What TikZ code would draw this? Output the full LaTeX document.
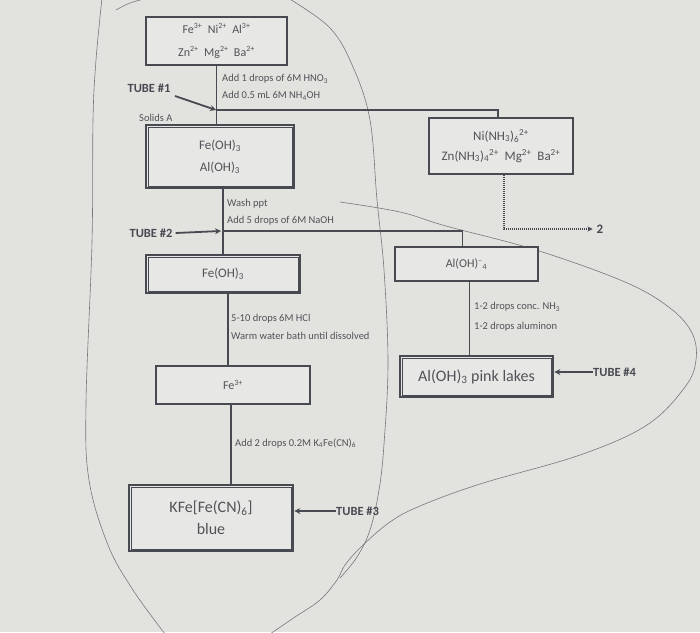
\documentclass[tikz,border=0pt]{standalone}
\usepackage{fontspec}
\setmainfont{Carlito}
\usetikzlibrary{arrows.meta,calc}
\definecolor{paper}{RGB}{226,226,223}
\definecolor{boxfill}{RGB}{231,231,229}
\definecolor{linec}{RGB}{72,74,82}
\definecolor{textc}{RGB}{82,82,88}
\definecolor{pencil}{RGB}{120,120,122}
\begin{document}
\begin{tikzpicture}[x=1pt,y=-1pt,
  sbox/.style={draw=linec, fill=boxfill, line width=1.1pt, text=textc, align=center, inner sep=0pt},
  dbox/.style={draw=linec, fill=boxfill, line width=2.6pt, text=textc, align=center, inner sep=0pt},
  conn/.style={draw=linec, line width=1.1pt},
  tubearrow/.style={draw=linec, line width=1.8pt, -{Stealth[length=6pt,width=6pt]}},
  note/.style={anchor=west, text=textc, font=\fontsize{10.5}{12}\selectfont, inner sep=0pt},
  tube/.style={text=linec, font=\fontsize{12.5}{14}\bfseries\selectfont, inner sep=0pt},
  pencilline/.style={draw=pencil, line width=0.6pt}]
\useasboundingbox (0,0) rectangle (700,632);
\fill[paper] (0,0) rectangle (700,632);

% pencil outlines
\draw[pencilline] plot[smooth, tension=0.6] coordinates {(102,-2) (96,60) (93,120) (92,242) (86,403) (89,480) (108,545) (133,590) (165,634)};
\draw[pencilline] plot[smooth, tension=0.6] coordinates {(116,10) (130,3) (148,-2)};
\draw[pencilline] plot[smooth, tension=0.6] coordinates {(288,-2) (330,28) (353,67) (370,120) (377,200) (384,270) (388,363) (384,444) (379,490) (370,530) (357,557) (340,578)};
\draw[pencilline] plot[smooth, tension=0.6] coordinates {(340,202) (400,212) (446,226) (536,250) (625,282) (670,308) (692,333) (696,360) (685,387) (647,425) (580,455) (480,484) (420,506) (390,522) (362,546) (345,565) (337,580) (320,600) (295,617) (270,634)};

% boxes
\node[sbox, minimum width=141pt, minimum height=48pt, font=\fontsize{12}{23}\selectfont] (top) at (216.5,41)
  {Fe\textsuperscript{3+}\ \ Ni\textsuperscript{2+}\ \ Al\textsuperscript{3+}\\Zn\textsuperscript{2+}\ \ Mg\textsuperscript{2+}\ \ Ba\textsuperscript{2+}};
\node[dbox, minimum width=148pt, minimum height=63pt, font=\fontsize{13}{22}\selectfont] (b2) at (220,156.5)
  {Fe(OH)\textsubscript{3}\\Al(OH)\textsubscript{3}};
\node[sbox, minimum width=144pt, minimum height=56pt, font=\fontsize{13}{20}\selectfont] (ni) at (501,146)
  {Ni(NH\textsubscript{3})\textsubscript{6}\textsuperscript{2+}\\Zn(NH\textsubscript{3})\textsubscript{4}\textsuperscript{2+}\ \ Mg\textsuperscript{2+}\ \ Ba\textsuperscript{2+}};
\node[dbox, minimum width=154pt, minimum height=38pt, font=\fontsize{13}{15}\selectfont] (b3) at (223,274)
  {Fe(OH)\textsubscript{3}};
\node[sbox, minimum width=143pt, minimum height=34pt, font=\fontsize{12}{14}\selectfont] (al) at (466.5,264)
  {Al(OH)\textsuperscript{--}\textsubscript{4}};
\node[dbox, minimum width=153pt, minimum height=41pt, font=\fontsize{16}{18}\selectfont] (pink) at (476.5,376.5)
  {Al(OH)\textsubscript{3} pink lakes};
\node[sbox, minimum width=154pt, minimum height=38pt, font=\fontsize{12}{14}\selectfont] (fe) at (233,385)
  {Fe\textsuperscript{3+}};
\node[dbox, minimum width=164pt, minimum height=66pt, font=\fontsize{16}{22}\selectfont] (fin) at (211,518)
  {KFe[Fe(CN)\textsubscript{6}]\\blue};

% inner lines of double boxes
\foreach \n in {b2,b3,pink,fin}{
  \draw[linec, line width=0.8pt] ([shift={(3.2,3.2)}]\n.north west) rectangle ([shift={(-3.2,-3.2)}]\n.south east);
}

% junctions
\coordinate (j1) at (217,110);
\coordinate (j2) at (223,231);

% connectors
\draw[conn] (top.south) -- (top.south |- b2.north);
\draw[conn] (j1) -| ([xshift=-3pt]ni.north);
\draw[conn] (b3.north |- b2.south) -- (b3.north);
\draw[conn] (j2) -| ([xshift=-4pt]al.north);
\draw[conn] ([xshift=5pt]b3.south) -- ([xshift=5pt]b3.south |- fe.north);
\draw[conn] ([xshift=-2pt]fe.south) -- ([xshift=-2pt]fe.south |- fin.north);
\draw[conn] ([xshift=3pt]al.south) -- ([xshift=3pt]al.south |- pink.north);

% step labels
\node[note] (n1) at (222,79) {Add 1 drops of 6M HNO\textsubscript{3}};
\node[note] (n2) at (222,96) {Add 0.5 mL 6M NH\textsubscript{4}OH};
\node[note] (n3) at (227,204) {Wash ppt};
\node[note] (n4) at (227,221) {Add 5 drops of 6M NaOH};
\node[note] (n5) at (231,319) {5-10 drops 6M HCl};
\node[note] (n6) at (231,336) {Warm water bath until dissolved};
\node[note] (n7) at (235,443) {Add 2 drops 0.2M K\textsubscript{4}Fe(CN)\textsubscript{6}};
\node[note] (n8) at (474,307) {1-2 drops conc. NH\textsubscript{3}};
\node[note] (n9) at (474,327) {1-2 drops aluminon};
\node[note] (sa) at (139,118) {Solids A};

% tube labels and arrows
\node[tube] (t1) at (149,88) {TUBE \#1};
\coordinate (a1) at (175,96);
\draw[tubearrow] (a1) -- ([xshift=-1pt]j1);
\node[tube] (t2) at (151,233) {TUBE \#2};
\draw[tubearrow] ([xshift=3pt]t2.east) -- ([xshift=-2pt]j2);
\node[tube, anchor=west] (t3) at (336,511) {TUBE \#3};
\draw[tubearrow] (t3.west) -- (fin.east |- t3.west);
\node[tube, anchor=west] (t4) at (593,372) {TUBE \#4};
\draw[tubearrow] (t4.west) -- (pink.east |- t4.west);

% dotted branch
\node[text=linec, font=\fontsize{13}{15}\bfseries\selectfont, inner sep=0pt] (two) at (600,229) {2};
\draw[linec, line width=1.6pt, dash pattern=on 1pt off 1pt, -{Stealth[length=5pt,width=5pt]}] ([xshift=3pt]ni.south) |- ([xshift=-4pt]two.west);
\end{tikzpicture}
\end{document}
